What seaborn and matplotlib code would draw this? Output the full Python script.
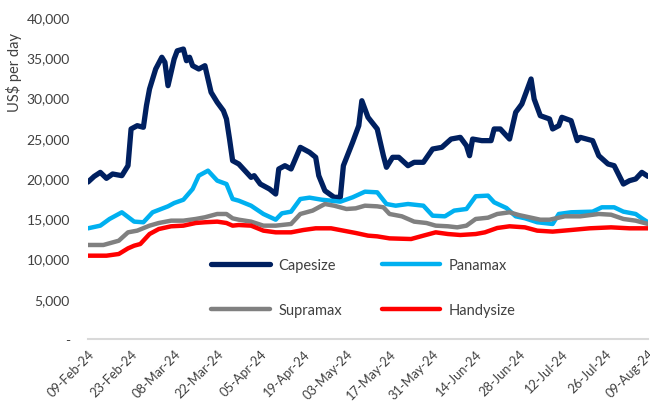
import numpy as np
import pandas as pd
import matplotlib
matplotlib.use("Agg")
import matplotlib.pyplot as plt
import matplotlib.dates as mdates
from matplotlib.ticker import FuncFormatter
import seaborn as sns

start_date = "2024-02-09"

cape_day = [0, 2, 4, 6, 8, 11, 13, 14, 16, 18, 19, 20, 22, 24, 25, 26, 28, 29, 31, 32, 33, 34, 36, 38,
            40, 42, 44, 45, 46, 47, 49, 51, 53, 54, 56, 59, 61, 62, 64, 66, 69, 72, 74, 75, 77, 80,
            82, 83, 86, 88, 89, 91, 94, 96, 97, 99, 101, 104, 106, 109, 112, 115, 118, 121, 123, 124,
            125, 128, 131, 132, 134, 137, 139, 141, 144, 145, 147, 150, 151, 153, 154, 157, 159, 160,
            164, 166, 169, 171, 174, 176, 178, 180, 182]
cape_val = [19500, 20200, 20700, 19960, 20500, 20290, 21530, 26090, 26500, 26300, 29000, 31060, 33540,
            35000, 34370, 31470, 34780, 35800, 36020, 34570, 35000, 33950, 33540, 33950, 30650, 29400,
            28360, 27330, 24840, 22150, 21740, 20910, 20080, 20290, 19250, 18630, 18010, 21120, 21530,
            21120, 23810, 23190, 22570, 20290, 18420, 17600, 17600, 21530, 24430, 26500, 29600, 27540,
            26090, 22770, 21330, 22570, 22570, 21530, 21950, 21950, 23600, 23810, 24840, 25050, 24010,
            22770, 24840, 24640, 24640, 26090, 26090, 24840, 28160, 29190, 32300, 29810, 27740, 27330,
            26090, 26500, 27540, 27120, 24640, 25050, 24640, 22770, 21740, 21530, 19250, 19670, 19880,
            20700, 20200]

pana_day = [0, 4, 7, 11, 15, 18, 21, 26, 28, 31, 34, 36, 39, 42, 45, 47, 49, 53, 57, 61, 63, 66, 69,
            72, 76, 79, 82, 86, 90, 94, 97, 100, 104, 109, 112, 116, 119, 123, 126, 130, 132, 136,
            139, 142, 146, 151, 153, 157, 164, 167, 171, 174, 178, 180, 182]
pana_val = [13750, 14080, 14910, 15740, 14580, 14500, 15740, 16480, 16890, 17300, 18630, 20290, 20910,
            19670, 19250, 17390, 17180, 16560, 15530, 14820, 15610, 15820, 17390, 17560, 17300, 17180,
            17060, 17600, 18300, 18220, 16770, 16560, 16770, 16560, 15320, 15240, 15950, 16150, 17730,
            17810, 16980, 16270, 15240, 15000, 14500, 14290, 15530, 15740, 15820, 16360, 16360, 15820,
            15530, 14990, 14500]

supra_day = [0, 5, 10, 13, 16, 20, 23, 27, 31, 35, 38, 42, 45, 47, 49, 53, 57, 61, 66, 69, 73, 77, 80,
             84, 87, 90, 94, 96, 98, 102, 106, 110, 113, 117, 120, 123, 126, 130, 133, 137, 140, 147,
             150, 155, 160, 166, 170, 174, 178, 182]
supra_val = [11680, 11680, 12210, 13250, 13460, 14080, 14410, 14700, 14700, 14910, 15120, 15530, 15530,
             14990, 14820, 14580, 14080, 14080, 14290, 15530, 15950, 16770, 16560, 16150, 16230, 16560,
             16480, 16360, 15530, 15240, 14580, 14410, 14080, 14000, 13870, 14080, 14910, 15070, 15530,
             15740, 15400, 14820, 14820, 15240, 15240, 15530, 15440, 14910, 14700, 14290]

handy_day = [0, 6, 10, 13, 15, 17, 20, 23, 27, 31, 35, 38, 42, 45, 47, 49, 53, 57, 61, 66, 70, 74, 79,
             83, 87, 91, 94, 98, 105, 109, 113, 117, 121, 126, 129, 133, 137, 142, 146, 151, 157, 163,
             170, 176, 182]
handy_val = [10350, 10350, 10560, 11260, 11590, 11800, 13040, 13660, 14000, 14080, 14410, 14500, 14580,
             14410, 14080, 14160, 14080, 13460, 13250, 13250, 13540, 13750, 13750, 13460, 13170, 12840,
             12750, 12500, 12420, 12840, 13250, 13040, 12920, 13040, 13250, 13790, 14000, 13870, 13460,
             13340, 13540, 13750, 13870, 13750, 13750]

series_names = ["Capesize", "Panamax", "Supramax", "Handysize"]
series_colors = ["#002060", "#00B0F0", "#808080", "#FF0000"]
series_widths = [3.8, 3.2, 3.2, 3.2]
tick_dates = ["2024-02-09", "2024-02-23", "2024-03-08", "2024-03-22", "2024-04-05", "2024-04-19",
              "2024-05-03", "2024-05-17", "2024-05-31", "2024-06-14", "2024-06-28", "2024-07-12",
              "2024-07-26", "2024-08-09"]
y_ticks = [0, 5000, 10000, 15000, 20000, 25000, 30000, 35000, 40000]

t0 = pd.Timestamp(start_date)
frames = []
for name, days, vals in [("Capesize", cape_day, cape_val), ("Panamax", pana_day, pana_val),
                         ("Supramax", supra_day, supra_val), ("Handysize", handy_day, handy_val)]:
    frames.append(pd.DataFrame({"date": t0 + pd.to_timedelta(days, unit="D"),
                                "value": vals, "series": name}))
df = pd.concat(frames, ignore_index=True)

sns.set_theme(style="white")
plt.rcParams["font.family"] = ["Lato", "DejaVu Sans"]
text_color = "#404040"

fig = plt.figure(figsize=(6.5, 4.06), dpi=100)
ax = fig.add_axes([88 / 650, 1 - 340 / 406, 560 / 650, 322 / 406])

for name, color, lw in zip(series_names, series_colors, series_widths):
    sub = df[df["series"] == name]
    sns.lineplot(data=sub, x="date", y="value", ax=ax, color=color, linewidth=lw,
                 label=name, solid_capstyle="round", solid_joinstyle="round")

ax.set_xlim(pd.Timestamp(tick_dates[0]), pd.Timestamp(tick_dates[-1]))
ax.set_ylim(0, 40000)
ax.set_xticks([pd.Timestamp(d) for d in tick_dates])
ax.xaxis.set_major_formatter(mdates.DateFormatter("%d-%b-%y"))
ax.set_yticks(y_ticks)
ax.yaxis.set_major_formatter(FuncFormatter(lambda v, p: "-" if v == 0 else f"{int(v):,}"))
ax.tick_params(axis="both", length=0, colors=text_color)
ax.tick_params(axis="y", pad=13, labelsize=10)
ax.tick_params(axis="x", pad=6, labelsize=9.3)
for lab in ax.get_xticklabels():
    lab.set_rotation(45)
    lab.set_ha("right")
    lab.set_rotation_mode("anchor")

for s in ["top", "right", "left"]:
    ax.spines[s].set_visible(False)
ax.spines["bottom"].set_color("#D9D9D9")
ax.spines["bottom"].set_linewidth(1.5)
ax.set_xlabel("")
ax.set_ylabel("")
ax.grid(False)

fig.text(14 / 650, 1 - 72 / 406, "US$ per day", rotation=90, ha="center", va="center",
         fontsize=10.5, color=text_color)

handles, labels = ax.get_legend_handles_labels()
order = [0, 2, 1, 3]
leg = ax.legend([handles[i] for i in order], [labels[i] for i in order], ncol=2,
                loc="center", bbox_to_anchor=(0.492, 0.16), frameon=False, fontsize=10.5,
                handlelength=4, columnspacing=2.7, labelspacing=2.1, handletextpad=0.6)
for t in leg.get_texts():
    t.set_color(text_color)

fig.savefig("out.png", dpi=100)
